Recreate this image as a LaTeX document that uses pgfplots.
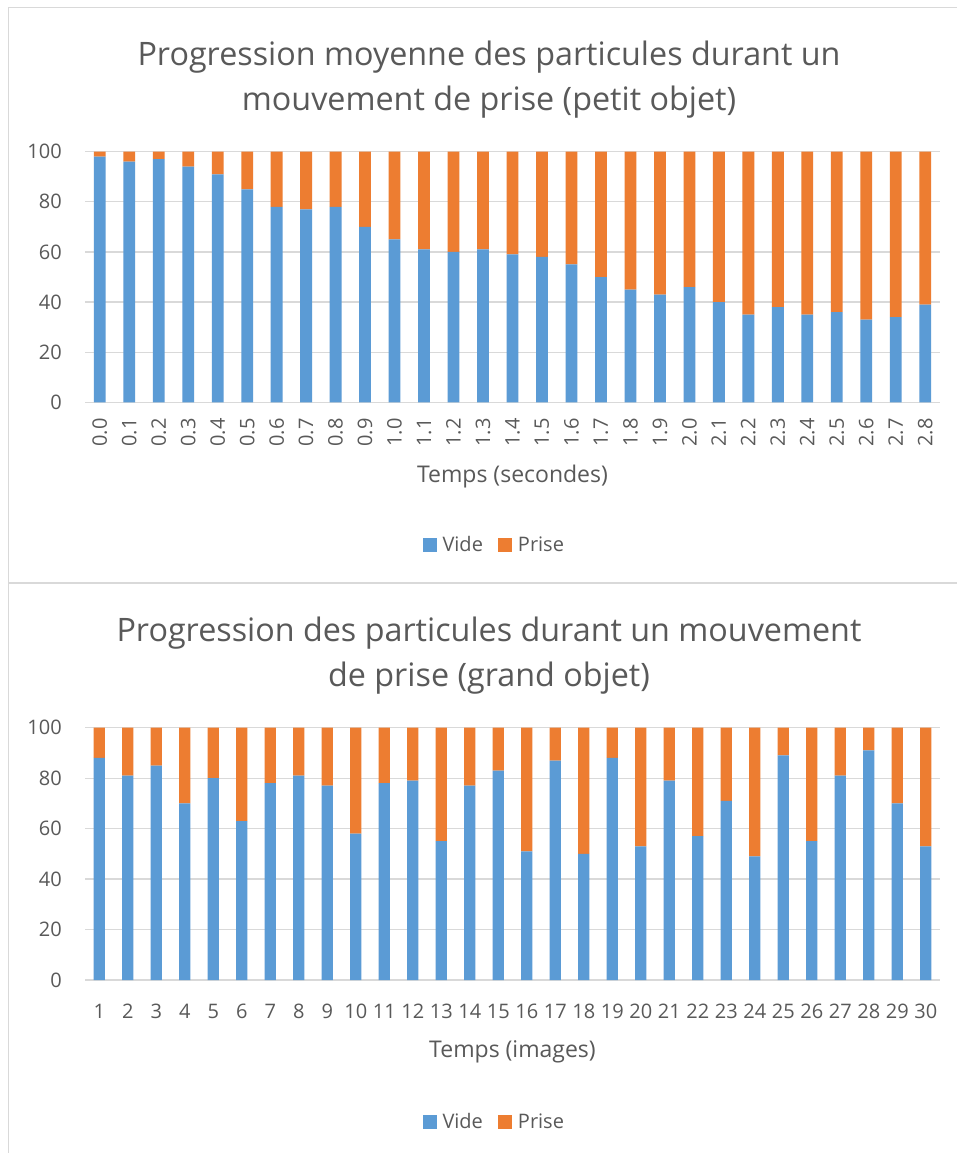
\documentclass[border=0pt]{standalone}
\usepackage{fontspec}
\setmainfont{Open Sans}
\usepackage{pgfplots}
\usepackage{pgfplotstable}
\pgfplotsset{compat=1.18}
\definecolor{cblue}{HTML}{5B9BD5}
\definecolor{corange}{HTML}{ED7D31}
\definecolor{cgrid}{HTML}{D9D9D9}
\definecolor{ctext}{HTML}{595959}

\pgfplotstableread{
x vide prise
0 98 2
1 96 4
2 97 3
3 94 6
4 91 9
5 85 15
6 78 22
7 77 23
8 78 22
9 70 30
10 65 35
11 61 39
12 60 40
13 61 39
14 59 41
15 58 42
16 55 45
17 50 50
18 45 55
19 43 57
20 46 54
21 40 60
22 35 65
23 38 62
24 35 65
25 36 64
26 33 67
27 34 66
28 39 61
}\toptable

\pgfplotstableread{
x vide prise
1 88 12
2 81 19
3 85 15
4 70 30
5 80 20
6 63 37
7 78 22
8 81 19
9 77 23
10 58 42
11 78 22
12 79 21
13 55 45
14 77 23
15 83 17
16 51 49
17 87 13
18 50 50
19 88 12
20 53 47
21 79 21
22 57 43
23 71 29
24 49 51
25 89 11
26 55 45
27 81 19
28 91 9
29 70 30
30 53 47
}\bottable

\pgfplotsset{
  excelbar/.style={
    scale only axis, width=855pt,
    ybar stacked, bar width=0.4,
    ymin=0, ymax=100, ytick={0,20,40,60,80,100},
    axis line style={draw=none},
    ymajorgrids, grid style={cgrid, line width=1.3pt},
    major tick length=0pt,
    /pgf/number format/assume math mode=true,
    tick label style={font=\fontsize{20}{24}\selectfont, text=ctext},
    yticklabel style={anchor=east, inner sep=0pt, xshift=-23pt},
    xtick=data,
    enlarge x limits=false,
    xlabel style={font=\fontsize{23}{27}\selectfont, text=ctext, anchor=base},
    legend columns=2,
    legend image code/.code={\fill[##1] (0pt,-7pt) rectangle (14pt,7pt);},
    legend style={draw=none, fill=none, anchor=center,
      font=\fontsize{20}{24}\selectfont, text=ctext,
      nodes={inner xsep=6pt},
      /tikz/every even column/.append style={column sep=9pt}},
  }
}

\begin{document}
\begin{tikzpicture}
\useasboundingbox (0,0) rectangle (957pt,-1153pt);
\fill[white] (0,0) rectangle (957pt,-1153pt);
\draw[cgrid, line width=1.5pt] (8.5pt,-1153pt) -- (8.5pt,-7.5pt) -- (957pt,-7.5pt);
\draw[cgrid, line width=1.5pt] (8.5pt,-583pt) -- (957pt,-583pt);

\node[anchor=base, font=\fontsize{32.3}{37}\selectfont, text=ctext] at (489pt,-66pt) {Progression moyenne des particules durant un};
\node[anchor=base, font=\fontsize{32.3}{37}\selectfont, text=ctext] at (489pt,-111pt) {mouvement de prise (petit objet)};
\node[anchor=base, font=\fontsize{32.3}{37}\selectfont, text=ctext] at (489pt,-641pt) {Progression des particules durant un mouvement};
\node[anchor=base, font=\fontsize{32.3}{37}\selectfont, text=ctext] at (489pt,-686pt) {de prise (grand objet)};

\begin{axis}[excelbar,
  at={(85pt,-402.3pt)}, anchor=south west, height=250.6pt,
  xmin=-0.5, xmax=28.5,
  xticklabels={0.0,0.1,0.2,0.3,0.4,0.5,0.6,0.7,0.8,0.9,1.0,1.1,1.2,1.3,1.4,1.5,1.6,1.7,1.8,1.9,2.0,2.1,2.2,2.3,2.4,2.5,2.6,2.7,2.8},
  xticklabel style={rotate=90, anchor=east, inner xsep=16pt, inner ysep=0pt},
  xlabel={Temps (secondes)},
  xlabel style={at={(axis description cs:0.5,-0.319)}},
  legend style={at={(0.481,-0.569)}},
]
\addplot[fill=cblue, draw=none] table[x=x, y=vide] {\toptable};
\addplot[fill=corange, draw=none] table[x=x, y=prise] {\toptable};
\legend{Vide, Prise}
\end{axis}

\begin{axis}[excelbar,
  at={(85pt,-980pt)}, anchor=south west, height=252.3pt,
  xmin=0.5, xmax=30.5,
  xticklabel style={anchor=north, inner sep=0pt, yshift=-24pt},
  xlabel={Temps (images)},
  xlabel style={at={(axis description cs:0.5,-0.309)}},
  legend style={at={(0.481,-0.563)}},
]
\addplot[fill=cblue, draw=none] table[x=x, y=vide] {\bottable};
\addplot[fill=corange, draw=none] table[x=x, y=prise] {\bottable};
\legend{Vide, Prise}
\end{axis}
\end{tikzpicture}
\end{document}
